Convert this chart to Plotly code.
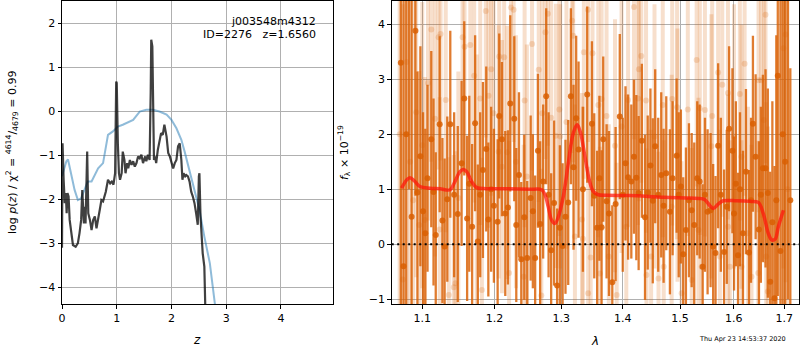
import math
import plotly.graph_objects as go

# ---------------- left panel: p(z) ----------------
z_pz = [0.0, 0.005, 0.01, 0.03, 0.05, 0.07, 0.085, 0.10, 0.12, 0.14, 0.17, 0.20, 0.25, 0.29, 0.32,
        0.35, 0.37, 0.40, 0.42, 0.43, 0.46, 0.48, 0.51, 0.54, 0.57, 0.60, 0.63, 0.66, 0.69, 0.72,
        0.75, 0.80, 0.84, 0.88, 0.91, 0.94, 0.97, 0.99, 1.00, 1.02, 1.04, 1.06, 1.09, 1.11, 1.14,
        1.16, 1.19, 1.21, 1.24, 1.27, 1.30, 1.33, 1.36, 1.39, 1.42, 1.45, 1.48, 1.52, 1.54, 1.57,
        1.60, 1.62, 1.63, 1.65, 1.66, 1.68, 1.70, 1.72, 1.75, 1.78, 1.81, 1.84, 1.87, 1.91, 1.94,
        1.97, 2.00, 2.03, 2.06, 2.09, 2.12, 2.15, 2.18, 2.20, 2.22, 2.25, 2.27, 2.30, 2.33, 2.36,
        2.39, 2.42, 2.45, 2.48, 2.50, 2.51, 2.53, 2.55, 2.57, 2.60, 2.62]
log_pz = [-3.1, -0.73, -0.73, -1.56, -2.09, -1.86, -2.32, -1.86, -1.94, -2.47, -2.77, -3.04, -3.08, -3.0, -2.77,
          -2.47, -1.79, -2.55, -2.17, -2.55, -0.92, -2.32, -2.47, -2.70, -2.47, -2.39, -2.66, -2.39, -2.24, -2.02,
          -2.05, -1.83, -1.56, -1.64, -1.60, -1.67, -1.41, 0.67, 0.64, -0.73, -1.41, -1.56, -1.41, -0.92, -1.11,
          -1.41, -1.18, -1.30, -1.11, -1.22, -1.14, -1.26, -1.18, -1.03, -1.07, -0.99, -1.18, -1.03, -1.14, -0.99,
          -1.11, 0.41, 1.62, 1.47, 0.33, -1.11, -1.03, -1.18, -0.88, -0.65, -0.50, -0.54, -0.31, -0.58, -0.95,
          -1.03, -1.18, -1.30, -1.18, -1.11, -0.80, -0.73, -1.11, -1.56, -1.41, -1.48, -1.45, -1.48, -1.60, -1.83,
          -1.94, -2.09, -2.32, -2.58, -1.48, -1.41, -2.39, -2.77, -3.23, -3.53, -4.6]

z_prior = [0.0, 0.03, 0.08, 0.11, 0.17, 0.23, 0.29, 0.35, 0.41, 0.47, 0.54, 0.60, 0.66, 0.75, 0.84,
           0.93, 1.02, 1.11, 1.20, 1.30, 1.42, 1.54, 1.66, 1.78, 1.91, 2.00, 2.09, 2.18, 2.24, 2.33,
           2.42, 2.51, 2.60, 2.70, 2.80]
log_prior = [-1.48, -1.35, -1.14, -1.10, -1.41, -1.79, -2.02, -1.98, -1.79, -1.60, -1.60, -1.45, -1.30, -1.18, -0.54,
             -0.46, -0.35, -0.31, -0.26, -0.20, -0.01, 0.03, 0.03, -0.01, -0.08, -0.20, -0.39, -0.65, -0.92, -1.37,
             -1.79, -2.24, -2.85, -3.45, -4.45]

# ---------------- right panel: spectrum ----------------
wave_a = [1.072, 1.0755, 1.079, 1.0825, 1.086, 1.091, 1.0936, 1.0975, 1.101, 1.104, 1.107, 1.112, 1.115, 1.118,
          1.1233, 1.127, 1.130, 1.1336, 1.1377, 1.143, 1.148, 1.1533, 1.157, 1.161, 1.164, 1.168, 1.1722, 1.176,
          1.1794, 1.1833, 1.188, 1.191, 1.195, 1.199, 1.2044, 1.2067, 1.2106, 1.2155, 1.2194, 1.2228, 1.2287,
          1.2317, 1.2357, 1.2391, 1.2436, 1.248, 1.2532, 1.2565, 1.260, 1.2642, 1.2676, 1.2722, 1.2768, 1.2805,
          1.2845, 1.289, 1.2937, 1.298, 1.3023, 1.3068, 1.3111, 1.3153, 1.3195, 1.3237, 1.3275, 1.3345, 1.3414,
          1.349, 1.3528, 1.3575, 1.3612, 1.3648, 1.3675, 1.373, 1.377, 1.3825, 1.388, 1.395, 1.400, 1.4046,
          1.409, 1.4145, 1.419, 1.423, 1.427, 1.4325, 1.438, 1.4427, 1.4474, 1.4515, 1.4557, 1.461, 1.4663,
          1.4705, 1.4752, 1.4817, 1.4865, 1.4937, 1.4975, 1.5014, 1.5056, 1.5105, 1.516, 1.521, 1.5257, 1.5312,
          1.5357, 1.5412, 1.5455, 1.5504, 1.556, 1.5608, 1.5653, 1.5702, 1.5753, 1.5815, 1.5866, 1.591, 1.5974,
          1.6005, 1.604, 1.6082, 1.612, 1.6178, 1.6236, 1.6295, 1.6335, 1.6373, 1.6426, 1.6491, 1.653, 1.657,
          1.6623, 1.6669, 1.6717, 1.676, 1.6803, 1.684, 1.687, 1.6924, 1.697, 1.702, 1.7075, 1.7126]
flux_a = [3.3, -0.4, 2.0, 5.5, 0.5, 3.88, 0.94, 1.6, 0.6, 0.2, 1.2, 1.91, 0.95, 0.17,
          2.18, 0.43, -0.04, 0.82, 2.18, 0.9, 0.55, 1.47, 2.65, 0.47, 1.1, 0.32, 2.2, 0.05,
          0.9, 1.35, 1.73, 0.45, 1.0, 0.7, 0.41, 2.33, 1.91, 0.56, 0.67, 2.56, 2.28,
          0.35, 1.26, -0.27, 0.49, -0.25, 0.84, 0.6, -0.25, 1.70, 0.37, 1.14, 2.69, 0.9,
          -0.11, 0.75, -0.75, 0.3, -0.03, 0.5, 0.76, 2.69, 1.4, 2.29, 1.72, 1.0, 2.72,
          2.19, 0.88, 0.3, 1.2, 0.31, 1.91, 0.78, 0.56, -0.69, 0.73, 2.32, 0.9, 1.47,
          1.22, 1.14, 1.59, 1.21, 0.93, 1.88, 0.49, 0.94, 1.43, 0.79, 1.78, 0.9, 1.26,
          0.7, 1.29, 0.59, 1.2, 1.61, 0.9, 1.05, -0.18, 0.26, 0.8, 0.62, 0.35, 1.2,
          1.14, -0.41, 0.9, 0.59, 0.62, -0.04, -0.16, 1.79, 0.9, -0.14, 0.68, 2.1, 1.7,
          0.56, 1.1, -0.2, 1.0, 0.2, 1.32, -0.15, 0.8, 2.19, 1.59, 0.27, 0.9, 1.38,
          1.38, 0.93, -0.68, 0.4, -0.98, 0.8, 3.06, -0.12, 2.0, 1.5, 4.5, 0.8]
err_a = [5.0, 5.5, 4.5, 4.5, 4.0, 3.0, 2.2, 2.0, 1.8, 1.9, 1.7, 1.6, 1.7, 1.5,
         1.6, 1.5, 1.6, 1.5, 1.7, 1.5, 1.6, 1.5, 1.4, 1.5, 1.6, 1.5, 1.6, 1.4,
         1.5, 1.6, 1.5, 1.4, 1.5, 1.4, 1.5, 1.5, 1.4, 1.5, 1.4, 1.6, 1.5,
         1.4, 1.5, 1.4, 1.5, 1.4, 1.5, 1.4, 1.5, 1.4, 1.5, 1.4, 1.6, 1.5,
         1.4, 1.5, 1.4, 1.5, 1.5, 1.4, 1.5, 1.6, 1.5, 1.5, 1.6, 1.5, 1.6,
         1.5, 1.5, 1.4, 1.5, 1.4, 1.5, 1.4, 1.5, 1.4, 1.4, 1.5, 1.4, 1.4,
         1.5, 1.4, 1.4, 1.5, 1.4, 1.4, 1.5, 1.4, 1.4, 1.5, 1.4, 1.4, 1.5,
         1.4, 1.4, 1.5, 1.4, 1.4, 1.5, 1.4, 1.4, 1.5, 1.4, 1.4, 1.5, 1.4,
         1.4, 1.5, 1.4, 1.5, 1.4, 1.5, 1.4, 1.5, 1.4, 1.5, 1.4, 1.5, 1.5,
         1.4, 1.5, 1.5, 1.4, 1.5, 1.5, 1.5, 1.5, 1.6, 1.5, 1.6, 1.6, 1.7,
         1.8, 1.9, 2.0, 2.2, 2.4, 3.0, 4.0, 5.0, 6.0, 5.0, 5.5, 2.4]

wave_b = [1.0705, 1.0745, 1.0795, 1.084, 1.088, 1.092, 1.096, 1.100, 1.1035, 1.1076, 1.112, 1.117, 1.1218,
          1.1245, 1.1233, 1.1315, 1.1357, 1.1425, 1.1447, 1.1488, 1.1546, 1.1574, 1.1654, 1.1709, 1.1745,
          1.1794, 1.1818, 1.1874, 1.1913, 1.1951, 1.1985, 1.2058, 1.2067, 1.2106, 1.2139, 1.2184, 1.2211,
          1.2238, 1.2278, 1.2312, 1.2426, 1.2441, 1.2475, 1.2553, 1.2654, 1.2694, 1.2706, 1.2757, 1.2794,
          1.2845, 1.2918, 1.2972, 1.2986, 1.3083, 1.3173, 1.319, 1.3217, 1.333, 1.3345, 1.336, 1.3427,
          1.3429, 1.347, 1.350, 1.3594, 1.362, 1.3648, 1.373, 1.3767, 1.387, 1.3898, 1.398, 1.406, 1.409,
          1.419, 1.426, 1.4275, 1.4315, 1.4398, 1.4405, 1.4486, 1.4545, 1.4615, 1.469, 1.4707, 1.4848,
          1.4858, 1.4946, 1.4953, 1.5027, 1.5139, 1.521, 1.5301, 1.5335, 1.536, 1.5394, 1.5454, 1.5575,
          1.559, 1.5702, 1.5735, 1.578, 1.5888, 1.5892, 1.5925, 1.6005, 1.6117, 1.6148, 1.615, 1.621,
          1.6275, 1.6345, 1.6478, 1.6484, 1.6535, 1.6589, 1.6623, 1.6636, 1.6669, 1.6984, 1.703, 1.707]
flux_b = [2.0, -0.64, 3.31, 1.5, 0.8, 2.4, 0.35, 1.8, 0.44, 2.93, 3.9, 2.28, 3.76,
          3.82, 0.27, 2.62, -0.92, -0.78, -0.71, 0.84, 3.76, 3.59, 3.62, 3.06, 1.05,
          2.65, -0.83, 4.24, 2.7, 3.18, 2.38, 1.68, 3.41, 1.41, 3.4, 1.67, -0.52,
          4.3, 4.26, 1.5, -0.59, 2.61, 1.23, 3.64, 3.17, -0.93, 2.38, 3.85, 4.19,
          2.3, 1.97, 2.45, 1.96, 2.22, 4.06, 3.79, 0.14, 0.45, 0.1, 3.49, 4.26,
          -0.89, -0.24, 3.47, 2.53, -0.53, 2.64, 2.33, -0.22, 1.79, -0.92, 2.14, 0.32, 2.62,
          4.31, 2.65, 3.18, 3.42, 2.61, -0.56, -0.22, 1.96, -0.62, 2.53, -0.41, 0.68,
          2.64, 2.49, 1.62, -0.89, 2.45, -0.65, 3.35, 0.26, 2.47, -0.41, 2.44, 1.78,
          2.33, 3.12, -0.22, 2.9, 2.75, 0.32, -0.41, 1.96, 2.73, 1.59, -0.41, 3.28,
          0.2, -0.59, -0.52, 2.98, 2.98, 2.26, 4.17, -0.22, -0.86, 3.56, 3.81, 1.0]
err_b = [6.0, 5.0, 4.5, 4.5, 4.0, 3.0, 2.8, 2.6, 2.6, 2.5, 2.4, 2.5, 2.4,
         2.3, 2.4, 2.4, 2.5, 2.4, 2.4, 2.3, 2.4, 2.3, 2.4, 2.3, 2.4,
         2.3, 2.4, 2.3, 2.4, 2.3, 2.4, 2.3, 2.4, 2.3, 2.4, 2.3, 2.4,
         2.3, 2.4, 2.3, 2.4, 2.3, 2.4, 2.3, 2.4, 2.3, 2.4, 2.3, 2.4,
         2.3, 2.4, 2.3, 2.4, 2.3, 2.4, 2.3, 2.4, 2.3, 2.4, 2.3, 2.4,
         2.3, 2.4, 2.3, 2.4, 2.3, 2.4, 2.3, 2.4, 2.3, 2.4, 2.3, 2.4, 2.3,
         2.4, 2.3, 2.4, 2.3, 2.4, 2.3, 2.3, 2.4, 2.3, 2.4, 2.3, 2.4,
         2.3, 2.4, 2.3, 2.4, 2.3, 2.4, 2.3, 2.4, 2.3, 2.4, 2.3, 2.4,
         2.3, 2.4, 2.3, 2.4, 2.3, 2.4, 2.3, 2.4, 2.3, 2.4, 2.3, 2.4,
         2.3, 2.4, 2.4, 2.4, 2.5, 2.6, 2.7, 2.8, 3.0, 4.0, 4.5, 5.0]

wave_model = [1.073, 1.0796, 1.0838, 1.0904, 1.097, 1.1102, 1.1237, 1.1373, 1.1441, 1.1510, 1.1556, 1.1603,
              1.1673, 1.1743, 1.1885, 1.2175, 1.2521, 1.2699, 1.2750, 1.2800, 1.2852, 1.2904, 1.2956, 1.3034,
              1.3112, 1.3191, 1.3254, 1.3308, 1.3378, 1.3447, 1.3512, 1.3594, 1.3732, 1.4121, 1.4698, 1.5178,
              1.5393, 1.5455, 1.5548, 1.5610, 1.5704, 1.5799, 1.6055, 1.6315, 1.6479, 1.6578, 1.6678, 1.6746,
              1.6814, 1.6881, 1.6984]
flux_model = [1.02, 1.17, 1.21, 1.14, 1.05, 1.02, 1.01, 0.99, 1.14, 1.32, 1.36, 1.32,
              1.14, 1.03, 1.01, 1.01, 1.00, 0.99, 0.90, 0.68, 0.44, 0.38, 0.50, 0.87,
              1.47, 2.02, 2.17, 2.02, 1.59, 1.17, 0.96, 0.90, 0.89, 0.885, 0.855, 0.84,
              0.83, 0.81, 0.70, 0.65, 0.73, 0.79, 0.79, 0.78, 0.76, 0.56, 0.20, 0.08,
              0.09, 0.32, 0.62]

xticks_lam = [1.1, 1.2, 1.3, 1.4, 1.5, 1.6, 1.7]
xtick_text = ["1.1", "1.2", "1.3", "1.4", "1.5", "1.6", "1.7"]

W, H = 800, 350
FONT = "DejaVu Sans"
ORANGE = "217,95,2"

def fx(p):
    return p / W

def fy(p):
    return 1 - p / H

fig = go.Figure()
fig.add_trace(go.Scatter(x=z_prior, y=log_prior, mode="lines",
                         line=dict(color="rgba(31,119,180,0.5)", width=2),
                         xaxis="x", yaxis="y", hoverinfo="skip"))
fig.add_trace(go.Scatter(x=z_pz, y=log_pz, mode="lines",
                         line=dict(color="rgba(0,0,0,0.75)", width=2.2),
                         xaxis="x", yaxis="y", hoverinfo="skip"))

fig.add_trace(go.Scatter(x=wave_b, y=flux_b, mode="markers",
                         marker=dict(color=f"rgba({ORANGE},0.2)", size=6),
                         error_y=dict(type="data", array=err_b, color=f"rgba({ORANGE},0.2)",
                                      thickness=4, width=0),
                         xaxis="x2", yaxis="y2", hoverinfo="skip"))
fig.add_trace(go.Scatter(x=wave_a, y=flux_a, mode="markers",
                         marker=dict(color=f"rgba({ORANGE},0.85)", size=6),
                         error_y=dict(type="data", array=err_a, color=f"rgba({ORANGE},0.82)",
                                      thickness=2.3, width=0),
                         xaxis="x2", yaxis="y2", hoverinfo="skip"))
fig.add_trace(go.Scatter(x=wave_model, y=flux_model, mode="lines", line_shape="spline",
                         line=dict(color="rgba(255,20,10,0.72)", width=3.5),
                         xaxis="x2", yaxis="y2", hoverinfo="skip"))

fig.add_shape(type="line", xref="x2 domain", x0=0, x1=1, yref="y2", y0=0, y1=0,
              line=dict(color="black", width=2, dash="2px,3.5px"), layer="above")

axis_common = dict(showline=True, mirror=True, linecolor="black", linewidth=1,
                   ticks="outside", ticklen=3.5, tickwidth=1, tickcolor="black",
                   showgrid=True, gridcolor="#b0b0b0", gridwidth=1, zeroline=False,
                   automargin=False,
                   tickfont=dict(family=FONT, size=11, color="black"))

ydom = [fy(304), fy(1)]
fig.update_layout(
    width=W, height=H, autosize=False,
    margin=dict(l=0, r=0, t=0, b=0, pad=0),
    paper_bgcolor="white", plot_bgcolor="white",
    showlegend=False,
    xaxis=dict(domain=[fx(62), fx(333)], range=[0, 4.95], tick0=0, dtick=1, anchor="y", **axis_common),
    yaxis=dict(domain=ydom, range=[-4.38, 2.5], tick0=0, dtick=1, anchor="x", **axis_common),
    xaxis2=dict(domain=[fx(391.7), fx(799.2)], type="log",
                range=[math.log10(1.0603), math.log10(1.731)],
                tickvals=xticks_lam, ticktext=xtick_text, anchor="y2", **axis_common),
    yaxis2=dict(domain=ydom, range=[-1.085, 4.42], tick0=0, dtick=1, anchor="x2", **axis_common),
)

annotations = [
    dict(text="j003548m4312", x=fx(318), y=fy(21), xanchor="right", yanchor="middle"),
    dict(text="ID=2276\u00a0\u00a0\u00a0z=1.6560", x=fx(318), y=fy(34), xanchor="right", yanchor="middle"),
    dict(text="<i>z</i>", x=fx(197), y=fy(340), xanchor="center", yanchor="middle", size=12),
    dict(text="<i>λ</i>", x=fx(595), y=fy(341), xanchor="center", yanchor="middle", size=12),
    dict(text="log <i>p</i>(<i>z</i>) / χ<sup>2</sup> = <sup>4614</sup>/<sub>4679</sub> = 0.99",
         x=fx(12), y=fy(153), xanchor="center", yanchor="middle", textangle=-90),
    dict(text="<i>f</i><sub>λ</sub> × 10<sup>−19</sup>",
         x=fx(344), y=fy(153), xanchor="center", yanchor="middle", textangle=-90),
    dict(text="Thu Apr 23 14:53:37 2020", x=fx(788), y=fy(339), xanchor="right", yanchor="middle", size=6.5),
]
for a in annotations:
    size = a.pop("size", 11)
    fig.add_annotation(xref="paper", yref="paper", showarrow=False,
                       font=dict(family=FONT, size=size, color="black"), **a)

fig.write_html("out.html", config={"displayModeBar": False},
               post_script="document.body.style.margin='0px';document.body.style.overflow='hidden';")
